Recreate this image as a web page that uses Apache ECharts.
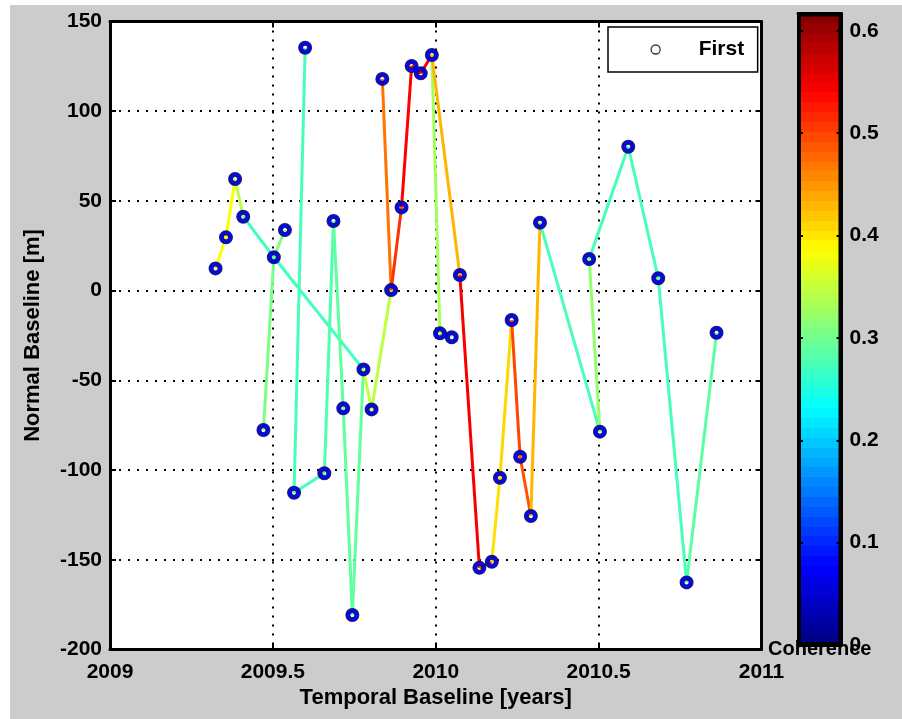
<!DOCTYPE html>
<html>
<head>
<meta charset="utf-8">
<script src="https://cdn.jsdelivr.net/npm/echarts@6/dist/echarts.min.js"></script>
<style>
body{margin:0;background:#fff;}
#wrap{position:relative;width:902px;height:719px;background:#fff;overflow:hidden;}
#fig{position:absolute;left:10px;top:5px;width:892px;height:714px;background:#cccccc;}
#chart{position:absolute;left:0;top:0;width:902px;height:719px;}
</style>
</head>
<body>
<div id="wrap"><div id="fig"></div><div id="chart"></div></div>
<script>
// acquisitions: time [years] and normal baseline [m]
const years = [2009.324, 2009.356, 2009.384, 2009.409, 2009.471, 2009.503, 2009.537, 2009.565,
    2009.599, 2009.658, 2009.686, 2009.716, 2009.744, 2009.778, 2009.803, 2009.836, 2009.863,
    2009.895, 2009.926, 2009.954, 2009.988, 2010.013, 2010.049, 2010.074, 2010.134, 2010.172,
    2010.197, 2010.233, 2010.259, 2010.292, 2010.320, 2010.471, 2010.504, 2010.591, 2010.683,
    2010.770, 2010.862];
const baselines = [12.4, 29.7, 62.2, 41.2, -77.7, 18.6, 33.8, -112.6,
    135.4, -101.8, 38.8, -65.6, -180.8, -43.9, -66.2, 118, 0.3,
    46.4, 125.2, 121.1, 131.3, -23.8, -26, 8.7, -154.5, -151.1,
    -104.3, -16.4, -92.6, -125.6, 37.9, 17.6, -78.6, 80.2, 6.9,
    -162.6, -23.5];

// interferogram pairs and their coherence
const edgeFrom = [0, 1, 2, 3, 5, 4, 5, 8, 7, 9, 10, 11, 13, 13, 14, 15, 16, 17, 18, 19, 20, 21,
    20, 23, 24, 25, 26, 27, 28, 29, 30, 31, 31, 33, 34, 35];
const edgeTo = [1, 2, 3, 5, 13, 5, 6, 7, 9, 10, 11, 12, 12, 14, 16, 16, 17, 18, 19, 20, 21, 22,
    23, 24, 25, 26, 27, 28, 29, 30, 32, 32, 33, 34, 35, 36];
const coherence = [0.385, 0.385, 0.345, 0.27, 0.27, 0.305, 0.31, 0.275, 0.275, 0.28, 0.29, 0.29,
    0.29, 0.35, 0.345, 0.47, 0.51, 0.54, 0.54, 0.54, 0.33, 0.33,
    0.43, 0.545, 0.5, 0.404, 0.41, 0.497, 0.49, 0.43, 0.275, 0.32, 0.275, 0.275, 0.275, 0.285];

const cohMax = 0.617;
const cohTicks = 0.1;

const FONT = 'Liberation Sans, Arial, sans-serif';

function jet(t) {
    const f = x => Math.max(0, Math.min(1, 1.5 - Math.abs(4 * t - x)));
    const c = v => Math.round(v * 255);
    return 'rgb(' + c(f(3)) + ',' + c(f(2)) + ',' + c(f(1)) + ')';
}

// colorbar, 64 flat bands like matlab jet(64)
let stops = [];
for (let i = 0; i < 64; i++) {
    const col = jet((i + 0.5) / 64);
    stops.push({offset: i / 64, color: col});
    stops.push({offset: (i + 1) / 64, color: col});
}

let pts = [];
for (let i = 0; i < years.length; i++) {
    pts.push([years[i], baselines[i]]);
}
let links = [];
for (let i = 0; i < edgeFrom.length; i++) {
    links.push({
        coords: [pts[edgeFrom[i]], pts[edgeTo[i]]],
        lineStyle: {color: jet(coherence[i] / cohMax)}
    });
}

const lbl = {color: '#000', fontFamily: FONT, fontWeight: 'bold', fontSize: 21};
const blackLine = {show: true, onZero: false, lineStyle: {color: '#000', width: 3}};
const inTick = {show: true, inside: true, length: 6, lineStyle: {color: '#000', width: 2}};
const barTick = {show: true, inside: true, length: 5, lineStyle: {color: '#000', width: 2}};
const dots = {show: true, lineStyle: {color: '#000', width: 2, type: [2, 7]}};

const myChart = echarts.init(document.getElementById('chart'));
const option = {
    animation: false,
    grid: [
        {left: 110, right: 140.5, top: 21.5, bottom: 69.5, show: true, backgroundColor: '#fff', borderWidth: 0},
        {left: 798, right: 60.5, top: 13.5, bottom: 74, show: false}
    ],
    legend: {
        left: 608, top: 27,
        padding: [7, 13.5, 7, 42.5],
        itemWidth: 9, itemHeight: 9,
        backgroundColor: '#fff', borderColor: '#000', borderWidth: 1.5,
        selectedMode: false,
        data: [{name: 'First', icon: 'circle', itemStyle: {color: '#fff', borderColor: '#000', borderWidth: 1.3}}],
        textStyle: Object.assign({}, lbl, {lineHeight: 21, padding: [0, 0, 10, 33.5]})
    },
    xAxis: [
        {
            type: 'value', gridIndex: 0, min: 2009, max: 2011, interval: 0.5, position: 'bottom',
            axisLine: blackLine, axisTick: inTick, splitLine: dots,
            axisLabel: Object.assign({margin: 12, formatter: v => String(v)}, lbl),
            name: 'Temporal Baseline [years]', nameLocation: 'middle', nameGap: 36,
            nameTextStyle: Object.assign({}, lbl, {fontSize: 22})
        },
        {
            type: 'value', gridIndex: 0, min: 2009, max: 2011, interval: 0.5, position: 'top',
            axisLine: blackLine, axisTick: inTick, splitLine: {show: false}, axisLabel: {show: false}
        },
        {
            type: 'category', gridIndex: 1, data: ['c'], position: 'bottom',
            axisLine: blackLine, axisTick: {show: false}, axisLabel: {show: false},
            name: 'Coherence', nameLocation: 'middle', nameGap: -6,
            nameTextStyle: Object.assign({}, lbl, {fontSize: 20})
        },
        {
            type: 'category', gridIndex: 1, data: ['c'], position: 'top',
            axisLine: blackLine, axisTick: {show: false}, axisLabel: {show: false}
        }
    ],
    yAxis: [
        {
            type: 'value', gridIndex: 0, min: -200, max: 150, interval: 50, position: 'left',
            axisLine: blackLine, axisTick: inTick, splitLine: dots,
            axisLabel: Object.assign({margin: 8}, lbl),
            name: 'Normal Baseline [m]', nameLocation: 'middle', nameGap: 66, nameRotate: 90,
            nameTextStyle: Object.assign({}, lbl, {fontSize: 22})
        },
        {
            type: 'value', gridIndex: 0, min: -200, max: 150, interval: 50, position: 'right',
            axisLine: blackLine, axisTick: inTick, splitLine: {show: false}, axisLabel: {show: false}
        },
        {
            type: 'value', gridIndex: 1, min: 0, max: cohMax, interval: cohTicks, position: 'right',
            axisLine: blackLine, axisTick: barTick, splitLine: {show: false}, zlevel: 1,
            axisLabel: Object.assign({margin: 8, showMaxLabel: false}, lbl)
        },
        {
            type: 'value', gridIndex: 1, min: 0, max: cohMax, interval: cohTicks, position: 'left',
            axisLine: blackLine, axisTick: barTick, splitLine: {show: false}, axisLabel: {show: false}, zlevel: 1
        }
    ],
    series: [
        {
            type: 'bar', xAxisIndex: 2, yAxisIndex: 2, data: [cohMax], barWidth: '100%', silent: true,
            itemStyle: {
                color: new echarts.graphic.LinearGradient(0, 1, 0, 0, stops),
                borderColor: '#000', borderWidth: 3
            }
        },
        {
            type: 'lines', coordinateSystem: 'cartesian2d', xAxisIndex: 0, yAxisIndex: 0,
            data: links, lineStyle: {width: 3, opacity: 1}, silent: true, z: 3
        },
        {
            name: 'rim', type: 'scatter', xAxisIndex: 0, yAxisIndex: 0, data: pts, symbolSize: 9, z: 4,
            itemStyle: {color: 'rgba(0,0,0,0)', borderColor: '#000', borderWidth: 5}, silent: true
        },
        {
            name: 'First', type: 'scatter', xAxisIndex: 0, yAxisIndex: 0, data: pts, symbolSize: 9, z: 5,
            itemStyle: {color: 'rgba(0,0,0,0)', borderColor: '#0000ff', borderWidth: 4}, silent: true
        }
    ]
};
myChart.setOption(option, true);
</script>
</body>
</html>
